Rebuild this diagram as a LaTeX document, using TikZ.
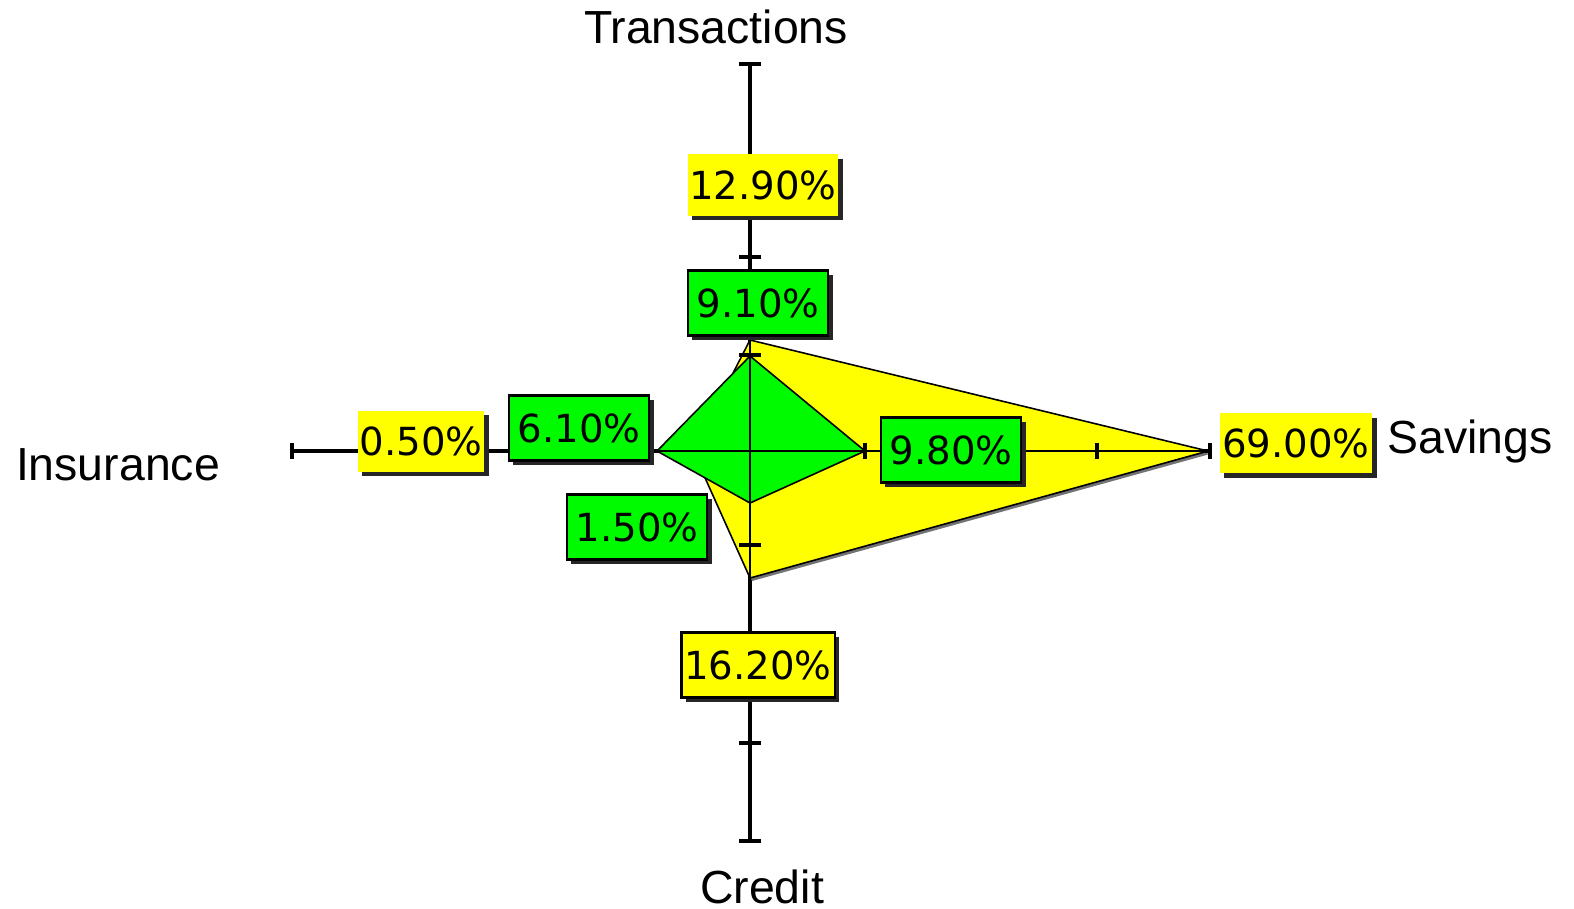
\documentclass[tikz,border=0pt]{standalone}
\usepackage{fontspec}
\setmainfont{Liberation Sans}
\newfontfamily\valuefont{DejaVu Sans}
\usetikzlibrary{shadows}
\definecolor{chartyellow}{RGB}{255,255,0}
\definecolor{chartgreen}{RGB}{0,250,0}

\begin{document}
\begin{tikzpicture}[
    x=0.01cm, y=-0.01cm,
    axisline/.style={line width=1.05pt},
    thinaxis/.style={line width=0.45pt},
    tickmark/.style={line width=1pt},
    area/.style={draw=black, line width=0.45pt, line join=round},
    valbox/.style={font=\valuefont\fontsize{11}{12}\selectfont, inner sep=0pt, drop shadow={shadow xshift=0.045cm, shadow yshift=-0.045cm, fill=black!85, opacity=1}},
    greenval/.style={valbox, draw, line width=0.6pt, fill=chartgreen, minimum width=1.4cm, minimum height=0.65cm},
    yellowval/.style={valbox, fill=chartyellow, minimum width=1.5cm, minimum height=0.61cm},
    axistitle/.style={font=\fontsize{13.2}{15}\selectfont, anchor=base, inner sep=0pt}
]
    \useasboundingbox (0,0) rectangle (1574,908);

    % Centre and axis ends
    \coordinate (centre) at (750,451);
    \coordinate (transend) at (750,64);
    \coordinate (creditend) at (750,841);
    \coordinate (insend) at (292,451);
    \coordinate (savend) at (1210,451);

    % Axes
    \draw[axisline] (transend) -- (creditend);
    \draw[axisline] (insend) -- (savend);

    % Areas
    \draw[area, fill=chartyellow, drop shadow={shadow xshift=0.02cm, shadow yshift=-0.03cm, fill=black!55, opacity=1}]
        (750,340) -- (1208,451) -- (750,578) -- (693,451) -- cycle;
    \draw[area, fill=chartgreen] (750,356) -- (865,451) -- (750,503) -- (657,451) -- cycle;
    \draw[thinaxis] (750,340) -- (750,578);
    \draw[thinaxis] (657,451) -- (1208,451);

    % Ticks
    \foreach \y in {64,159,257,355,545,643,743,841}
        \draw[tickmark] (739,\y) -- (761,\y);
    \foreach \x in {292,406,521,635,865,981,1097,1210}
        \draw[tickmark] (\x,443) -- (\x,459);

    % Values
    \node[yellowval] (transval) at (763,185) {12.90\%};
    \node[greenval] (transgreen) at (758,303) {9.10\%};
    \node[yellowval, minimum width=1.26cm] (insval) at (421,441) {0.50\%};
    \node[greenval] (insgreen) at (579,428) {6.10\%};
    \node[greenval] (creditgreen) at (637,527) {1.50\%};
    \node[greenval] (savgreen) at (951,450) {9.80\%};
    \node[yellowval, minimum width=1.52cm, minimum height=0.6cm] (savval) at (1296,443) {69.00\%};
    \node[yellowval, draw, line width=0.6pt, minimum width=1.53cm, minimum height=0.65cm] (creditval) at (758,665) {16.20\%};

    % Axis titles
    \node[axistitle] (trans) at (716,43) {Transactions};
    \node[axistitle] (ins) at (118,480) {Insurance};
    \node[axistitle] (sav) at (1470,453) {Savings};
    \node[axistitle] (credit) at (762,903) {Credit};
\end{tikzpicture}
\end{document}
